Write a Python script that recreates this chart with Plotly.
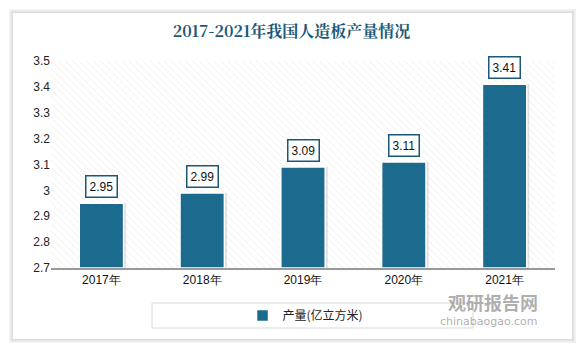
import plotly.graph_objects as go

# Annual output of wood-based panels in China
years = ["2017年", "2018年", "2019年", "2020年", "2021年"]
output = [2.95, 2.99, 3.09, 3.11, 3.41]
y_ticks = [2.7, 2.8, 2.9, 3.0, 3.1, 3.2, 3.3, 3.4, 3.5]
y_min, y_max = 2.7, 3.5

BAR = "#1c6b8e"
TEAL = "#1b5877"

fig = go.Figure()

# hatched plot background drawn as full-width bars
fig.add_trace(go.Bar(
    x=years, y=[y_max - y_min] * len(years), base=y_min, width=1,
    marker=dict(color="white", line=dict(width=0),
                pattern=dict(shape="\\", fgcolor="#d4d4d4", bgcolor="white",
                             size=5, solidity=0.15)),
    hoverinfo="skip", showlegend=False,
))

# soft shadow behind the bars
fig.add_trace(go.Bar(
    x=years, y=[v - y_min + 0.006 for v in output], base=y_min - 0.006,
    width=0.45, offset=-0.205,
    marker=dict(color="rgba(120,120,120,0.22)", line=dict(width=0)),
    hoverinfo="skip", showlegend=False,
))

fig.add_trace(go.Bar(
    x=years, y=[v - y_min for v in output], base=y_min, width=0.44,
    name="产量(亿立方米)",
    marker=dict(color=BAR, line=dict(color="white", width=1.5)),
))

for yr, v in zip(years, output):
    fig.add_annotation(
        x=yr, y=v, text=f"{v:.2f}", showarrow=False, yanchor="bottom", yshift=5,
        font=dict(family="Liberation Sans, Arial", size=12, color="#111"),
        bgcolor="white", bordercolor=TEAL, borderwidth=1.5, borderpad=3,
    )

# page shadow and white card
for i, c in enumerate(["#f4f4f4", "#ececec", "#e4e4e4", "#dcdcdc"]):
    d = 4 - i
    fig.add_shape(type="rect", xref="paper", yref="paper", layer="below",
                  x0=-(38 + d) / 504, x1=1 + (17 + d) / 504,
                  y0=-(71 + d) / 207, y1=1 + (48 + d) / 207,
                  line=dict(width=0), fillcolor=c)
fig.add_shape(type="rect", xref="paper", yref="paper", layer="below",
              x0=-38 / 504, x1=1 + 17 / 504, y0=-71 / 207, y1=1 + 48 / 207,
              line=dict(width=0), fillcolor="white")

# legend frame
fig.add_shape(type="rect", xref="paper", yref="paper", layer="below",
              x0=101 / 504, x1=422 / 504, y0=-35 / 207, y1=-60 / 207,
              line=dict(color="#d8d8d8", width=1), fillcolor="white")

# watermark
fig.add_annotation(xref="paper", yref="paper", x=1 - 15 / 504, y=-34 / 207,
                   xanchor="right", yanchor="middle",
                   text="<b>观研报告网</b>", showarrow=False,
                   font=dict(family="Noto Sans CJK SC", size=18, color="rgba(140,140,140,0.7)"))
fig.add_annotation(xref="paper", yref="paper", x=1 - 15 / 504, y=-53 / 207,
                   xanchor="right", yanchor="middle",
                   text="chinabaogao.com", showarrow=False,
                   font=dict(family="DejaVu Sans", size=11, color="rgba(140,140,140,0.7)"))

fig.update_layout(
    width=583, height=349,
    margin=dict(l=51, r=28, t=61, b=81),
    paper_bgcolor="white", plot_bgcolor="white",
    barmode="overlay",
    title=dict(text="<b>2017-2021年我国人造板产量情况</b>", x=0.5, xanchor="center",
               y=0.91, yanchor="middle",
               font=dict(family="Noto Serif CJK SC, Noto Sans CJK SC", size=16, color=TEAL)),
    font=dict(family="Liberation Sans, Arial", size=12, color="#222"),
    showlegend=True,
    legend=dict(orientation="h", x=0.505, xanchor="center", y=-47.5 / 207, yanchor="middle",
                borderwidth=0, bgcolor="rgba(0,0,0,0)",
                font=dict(family="Noto Sans CJK SC", size=12, color="#222"),
                itemwidth=30),
    xaxis=dict(showline=True, linecolor="#999", linewidth=1.5, ticks="",
               tickfont=dict(family="Liberation Sans, Arial", size=12, color="#111")),
    yaxis=dict(range=[y_min, y_max], tickvals=y_ticks, showgrid=False, zeroline=False,
               ticks="", tickfont=dict(family="Liberation Sans, Arial", size=12, color="#222")),
)

fig.write_html("out.html")
